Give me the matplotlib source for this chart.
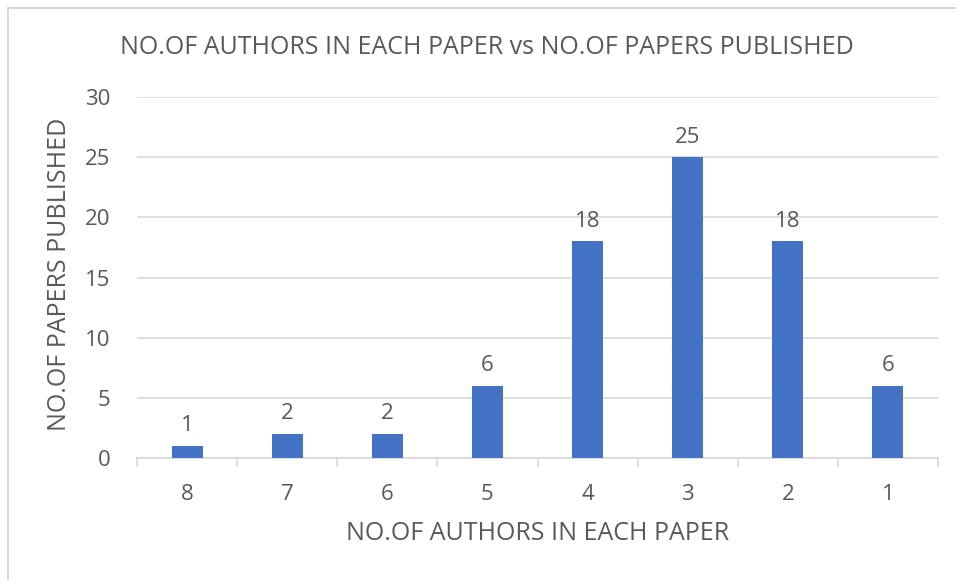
import matplotlib.pyplot as plt
from matplotlib.lines import Line2D

# data
authors = ["8", "7", "6", "5", "4", "3", "2", "1"]
papers  = [1, 2, 2, 6, 18, 25, 18, 6]
y_ticks = [0, 5, 10, 15, 20, 25, 30]

TITLE  = "NO.OF AUTHORS IN EACH PAPER vs NO.OF PAPERS PUBLISHED"
XLABEL = "NO.OF AUTHORS IN EACH PAPER"
YLABEL = "NO.OF PAPERS PUBLISHED"

BLUE = "#4472C4"
TEXT = "#595959"
GRID = "#D9D9D9"

plt.rcParams["font.family"] = ["Open Sans", "DejaVu Sans"]

W, H = 956, 580
fig = plt.figure(figsize=(W / 100, H / 100), dpi=100)
ax = fig.add_axes([137 / W, 1 - 458 / H, (938 - 137) / W, (458 - 97) / H])

x = range(len(authors))
ax.bar(x, papers, width=0.31, color=BLUE, zorder=3)
for xi, v in zip(x, papers):
    ax.text(xi, v + 0.8, str(v), ha="center", va="bottom", fontsize=16, color=TEXT)

ax.set_xlim(-0.5, len(authors) - 0.5)
ax.set_ylim(0, 30)
ax.set_yticks(y_ticks)
ax.set_xticks(list(x))
ax.set_xticklabels(authors)
ax.tick_params(axis="both", labelsize=16, labelcolor=TEXT)
ax.tick_params(axis="y", length=0, pad=19)
ax.tick_params(axis="x", length=0, pad=18.5)

# category separators below the axis
for b in [i - 0.5 for i in range(len(authors) + 1)]:
    ax.plot([b, b], [0, -0.65], color=GRID, lw=1.2, clip_on=False, zorder=2)

ax.grid(axis="y", color=GRID, lw=1.2, zorder=0)
for side in ["top", "right", "left"]:
    ax.spines[side].set_visible(False)
ax.spines["bottom"].set_color(GRID)
ax.spines["bottom"].set_linewidth(1.2)

# titles placed in figure pixels to match the reference
fig.text(538 / W, 1 - 534 / H, XLABEL, ha="center", va="center", fontsize=18, color=TEXT)
fig.text(60 / W, 1 - 274 / H, YLABEL, ha="center", va="center", rotation=90,
         fontsize=18, color=TEXT)
fig.text(487 / W, 1 - 47 / H, TITLE, ha="center", va="center", fontsize=18, color=TEXT)

# chart frame (only top and left edges are in view)
fig.add_artist(Line2D([7.5 / W, 7.5 / W], [0, 1 - 7.5 / H], color=GRID, lw=1.5))
fig.add_artist(Line2D([7.5 / W, 1], [1 - 7.5 / H, 1 - 7.5 / H], color=GRID, lw=1.5))

fig.savefig("out.png", dpi=100)
